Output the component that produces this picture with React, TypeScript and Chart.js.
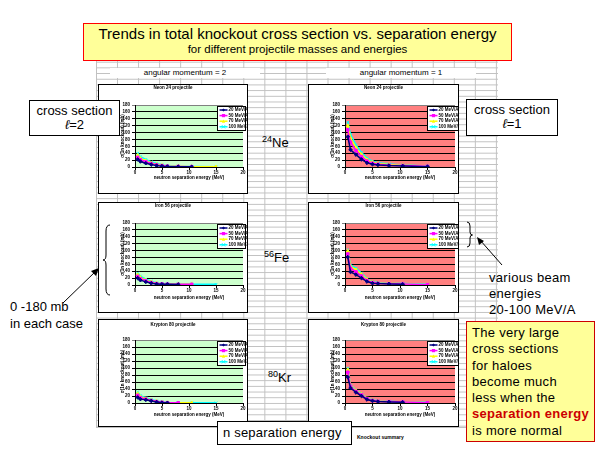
import React, { useEffect, useRef } from "react";
import { Chart, registerables } from "chart.js";

Chart.register(...registerables);

// ---------- data ----------
const SEP_ENERGY = [0.5, 1, 2, 3, 4, 5, 6, 8, 10.5, 15]; // MeV
const BEAM_ENERGIES = ["20 MeV/A", "50 MeV/A", "70 MeV/A", "100 MeV/A"];
const X_TICKS = [0, 5, 10, 15, 20];
const Y_TICKS = [0, 20, 40, 60, 80, 100, 120, 140, 160, 180];
const CHART_TITLES = ["Neon 24 projectile", "Iron 56 projectile", "Krypton 80 projectile"];
const X_TITLE = "neutron separation energy (MeV)";
const Y_TITLE = "σ(1n knockout) (mb)";

const NE24_L2 = [
  [22, 16, 11, 7, 4, 2.5, 1.5, 1, 0.5, null],
  [28, 21, 15, 10, 6, 4, 2.5, 1.5, 1, null],
  [34, 25, 18, 12, 8, 5, 3, 2, 1, 0.5],
  [40, 30, 22, 15, 10, 6, 4, 2.5, 1.5, 0.5],
];
const NE24_L1 = [
  [88, 50, 36, 22, 12, 8, 6, 4, 3, 1],
  [108, 72, 48, 30, 17, 11, 8, 5, 4, 2],
  [120, 84, 56, 36, 21, 14, 10, 7, 5, 2],
  [130, 95, 64, 42, 26, 17, 12, 9, 6, 3],
];
const FE56_L2 = [
  [20, 14, 9, 5, 3, 2, 2, 1.5, null, null],
  [25, 18, 12, 7, 4, 3, 2.5, 2, 2, null],
  [30, 22, 14, 9, 5, 3.5, 3, 2.5, 2, null],
  [35, 26, 17, 11, 6, 4, 3.5, 3, 2.5, 2],
];
const FE56_L1 = [
  [81, 38, 30, 20, 10, 5, 4, 3, 2, null],
  [90, 48, 38, 26, 13, 7, 5, 4, 3, 1],
  [98, 54, 44, 31, 16, 8, 6, 5, 3, 1],
  [102, 58, 49, 35, 18, 9, 7, 5, 4, 2],
];
const KR80_L2 = [
  [16, 11, 9, 6, 3, 1, 0.5, null, null, null],
  [22, 15, 11, 7, 4, 2, 1, 0.5, null, null],
  [27, 18, 13, 8, 5, 2, 1, 0.5, 0.5, null],
  [32, 21, 15, 10, 6, 3, 1.5, 1, 0.5, 0.5],
];
const KR80_L1 = [
  [74, 43, 30, 20, 10, 6, 4, 3, 2, null],
  [88, 47, 33, 23, 12, 7, 5, 4, 3, 1],
  [95, 49, 35, 25, 13, 8, 6, 4, 3, 1],
  [100, 51, 37, 26, 14, 9, 6, 5, 3, 2],
];

// ---------- styles ----------
const SERIES_COLORS = ["#000080", "#FF00FF", "#FFFF00", "#00FFFF"];
const SERIES_MARKERS = ["rectRot", "rect", "triangle", "crossRot"];
const FONT = "Arial, 'Liberation Sans', sans-serif";
const TINY = 4.5;

type Spec = {
  box: { x: number; y: number; w: number; h: number };
  plot: { l: number; t: number; r: number; b: number };
  titleY: number;
  xTitleY: number;
  title: string;
  bg: string;
  series: (number | null)[][];
  legend: { w: number; h: number; top: number; inset: number };
};

const ROWS = [
  { y: 84, h: 110, t: 105, b: 167, titleY: 88, xTitleY: 178 },
  { y: 202, h: 111, t: 223, b: 285, titleY: 206, xTitleY: 298 },
  { y: 319, h: 108, t: 340, b: 403, titleY: 325, xTitleY: 415 },
];
const COLS = [
  { x: 98, w: 150, l: 135, r: 243, bg: "#CCFFCC", legend: { w: 28, h: 24, top: 1, inset: 26 } },
  { x: 308, w: 151, l: 345, r: 455, bg: "#FF8080", legend: { w: 34, h: 24, top: 1, inset: 28 } },
];
const SERIES_GRID = [
  [NE24_L2, NE24_L1],
  [FE56_L2, FE56_L1],
  [KR80_L2, KR80_L1],
];

const SPECS: Spec[] = [];
ROWS.forEach((row, ri) => {
  COLS.forEach((col, ci) => {
    SPECS.push({
      box: { x: col.x, y: row.y, w: col.w, h: row.h },
      plot: { l: col.l, t: row.t, r: col.r, b: row.b },
      titleY: row.titleY,
      xTitleY: row.xTitleY,
      title: CHART_TITLES[ri],
      bg: col.bg,
      series: SERIES_GRID[ri][ci],
      legend: col.legend,
    });
  });
});

function drawMarker(ctx: CanvasRenderingContext2D, style: string, x: number, y: number, r: number, color: string) {
  ctx.save();
  ctx.fillStyle = color;
  ctx.strokeStyle = color;
  ctx.lineWidth = 1;
  ctx.beginPath();
  if (style === "rectRot") {
    ctx.moveTo(x, y - r); ctx.lineTo(x + r, y); ctx.lineTo(x, y + r); ctx.lineTo(x - r, y); ctx.closePath(); ctx.fill();
  } else if (style === "rect") {
    ctx.fillRect(x - r, y - r, 2 * r, 2 * r);
  } else if (style === "triangle") {
    ctx.moveTo(x, y - r); ctx.lineTo(x + r, y + r); ctx.lineTo(x - r, y + r); ctx.closePath(); ctx.fill();
  } else {
    ctx.moveTo(x - r, y - r); ctx.lineTo(x + r, y + r); ctx.moveTo(x + r, y - r); ctx.lineTo(x - r, y + r); ctx.stroke();
  }
  ctx.restore();
}

function SmallChart({ spec }: { spec: Spec }) {
  const ref = useRef<HTMLCanvasElement>(null);
  const cw = spec.box.w - 2;
  const ch = spec.box.h - 2;
  useEffect(() => {
    if (!ref.current) return;
    const cl = spec.box.x + 1;
    const ct = spec.box.y + 1;
    const yW = 15;
    const lh = TINY * 1.2;
    const xH = spec.xTitleY - spec.plot.b + lh / 2;
    const padding = {
      left: spec.plot.l - cl - yW,
      top: spec.plot.t - ct,
      right: cl + cw - spec.plot.r,
      bottom: ct + ch - spec.plot.b - xH,
    };
    const tickFont = { family: FONT, size: TINY, weight: "bold" as const };

    const decor = {
      id: "decor",
      beforeDraw(chart: any) {
        const { ctx, chartArea } = chart;
        ctx.save();
        ctx.fillStyle = spec.bg;
        ctx.fillRect(chartArea.left, chartArea.top, chartArea.right - chartArea.left, chartArea.bottom - chartArea.top);
        ctx.restore();
      },
      afterDraw(chart: any) {
        const { ctx, chartArea } = chart;
        ctx.save();
        // chart title
        ctx.font = `bold ${TINY}px ${FONT}`;
        ctx.fillStyle = "#000";
        ctx.textAlign = "center";
        ctx.textBaseline = "middle";
        ctx.fillText(spec.title, cw / 2, spec.titleY - ct);
        // legend
        const L = spec.legend;
        const lx = Math.round(chartArea.right - L.inset) + 0.5;
        const ly = Math.round(chartArea.top + L.top) + 0.5;
        ctx.fillStyle = "#fff";
        ctx.fillRect(lx, ly, L.w, L.h);
        ctx.strokeStyle = "#000";
        ctx.lineWidth = 1;
        ctx.strokeRect(lx, ly, L.w, L.h);
        chart.data.datasets.forEach((ds: any, i: number) => {
          const cy = ly + 3.5 + i * 5.6;
          ctx.strokeStyle = SERIES_COLORS[i];
          ctx.lineWidth = 1.5;
          ctx.beginPath();
          ctx.moveTo(lx + 2, cy);
          ctx.lineTo(lx + 10, cy);
          ctx.stroke();
          drawMarker(ctx, SERIES_MARKERS[i], lx + 6, cy, 1.6, SERIES_COLORS[i]);
          ctx.fillStyle = "#000";
          ctx.textAlign = "left";
          ctx.font = `bold ${TINY}px ${FONT}`;
          ctx.fillText(ds.label, lx + 11, cy);
        });
        ctx.restore();
      },
    };

    const chart = new Chart(ref.current, {
      type: "line",
      data: {
        datasets: spec.series.map((vals, i) => ({
          label: BEAM_ENERGIES[i],
          data: SEP_ENERGY.map((x, k) => ({ x, y: vals[k] })).filter((p) => p.y !== null) as any,
          borderColor: SERIES_COLORS[i],
          backgroundColor: SERIES_COLORS[i],
          borderWidth: 1.5,
          pointStyle: SERIES_MARKERS[i] as any,
          pointRadius: 1.8,
          pointBorderWidth: 1,
          pointBackgroundColor: SERIES_COLORS[i],
          pointBorderColor: SERIES_COLORS[i],
          tension: 0,
          fill: false,
        })),
      },
      options: {
        responsive: false,
        maintainAspectRatio: false,
        devicePixelRatio: 1,
        animation: false,
        layout: { padding, autoPadding: false } as any,
        plugins: { legend: { display: false }, title: { display: false }, tooltip: { enabled: false } },
        scales: {
          x: {
            type: "linear",
            min: X_TICKS[0],
            max: X_TICKS[X_TICKS.length - 1],
            afterBuildTicks: (s: any) => { s.ticks = X_TICKS.map((v) => ({ value: v })); },
            ticks: { font: tickFont, color: "#000", padding: 0, maxRotation: 0, autoSkip: false },
            grid: { drawOnChartArea: false, drawTicks: true, tickLength: 3, color: "#000", lineWidth: 1 },
            border: { color: "#000", width: 1 },
            title: { display: true, text: X_TITLE, font: tickFont, color: "#000", padding: 0 },
            afterFit: (s: any) => { s.height = xH; s.paddingLeft = 0; s.paddingRight = 0; },
          },
          y: {
            type: "linear",
            min: Y_TICKS[0],
            max: Y_TICKS[Y_TICKS.length - 1],
            afterBuildTicks: (s: any) => { s.ticks = Y_TICKS.map((v) => ({ value: v })); },
            ticks: { font: tickFont, color: "#000", padding: 2, autoSkip: false },
            grid: {
              drawOnChartArea: true,
              drawTicks: true,
              tickLength: 3,
              lineWidth: 1,
              color: (c: any) => (c.tick && c.tick.value === Y_TICKS[Y_TICKS.length - 1] ? "#808080" : "#000"),
            },
            border: { color: "#000", width: 1 },
            title: { display: true, text: Y_TITLE, font: tickFont, color: "#000", padding: 0 },
            afterFit: (s: any) => { s.width = yW; s.paddingTop = 0; s.paddingBottom = 0; },
          },
        },
      },
      plugins: [decor],
    });
    return () => chart.destroy();
  }, [spec]);

  return (
    <div
      style={{
        position: "absolute",
        left: spec.box.x,
        top: spec.box.y,
        width: spec.box.w,
        height: spec.box.h,
        border: "1px solid #000",
        boxSizing: "border-box",
        background: "#fff",
        overflow: "hidden",
      }}
    >
      <canvas ref={ref} width={cw} height={ch} style={{ display: "block", width: cw, height: ch }} />
    </div>
  );
}

const abs = (l: number, t: number, extra: React.CSSProperties = {}): React.CSSProperties => ({
  position: "absolute",
  left: l,
  top: t,
  ...extra,
});

export default function App() {
  const boxStyle: React.CSSProperties = {
    border: "1px solid #000",
    background: "#fff",
    boxSizing: "border-box",
    textAlign: "center",
    fontSize: 13,
    lineHeight: "14px",
  };
  return (
    <div
      style={{
        position: "fixed",
        left: 0,
        top: 0,
        width: 600,
        height: 450,
        background: "#fff",
        overflow: "hidden",
        fontFamily: FONT,
        color: "#000",
      }}
    >
      {/* spreadsheet grid */}
      <div
        style={abs(96, 56, {
          width: 402,
          height: 371,
          backgroundImage:
            "linear-gradient(to right, #c0c0c0 1px, transparent 1px), linear-gradient(to bottom, #c0c0c0 1px, transparent 1px)",
          backgroundSize: "21.05px 5.7px",
          borderBottom: "1px solid #c0c0c0",
        })}
      />
      {/* column headers */}
      <div style={abs(110, 68, { width: 150, textAlign: "center", fontSize: 8, lineHeight: "10px", background: "#fff" })}>
        angular momentum = 2
      </div>
      <div style={abs(326, 68, { width: 150, textAlign: "center", fontSize: 8, lineHeight: "10px", background: "#fff" })}>
        angular momentum = 1
      </div>

      {SPECS.map((s, i) => (
        <SmallChart key={i} spec={s} />
      ))}

      {/* nucleus labels */}
      <div style={abs(262, 131, { fontSize: 13, lineHeight: "16px", whiteSpace: "nowrap" })}>
        <span style={{ fontSize: 9, verticalAlign: "5px" }}>24</span>Ne
      </div>
      <div style={abs(264, 246, { fontSize: 13, lineHeight: "16px", whiteSpace: "nowrap" })}>
        <span style={{ fontSize: 9, verticalAlign: "5px" }}>56</span>Fe
      </div>
      <div style={abs(268, 366, { fontSize: 13, lineHeight: "16px", whiteSpace: "nowrap" })}>
        <span style={{ fontSize: 9, verticalAlign: "5px" }}>80</span>Kr
      </div>

      {/* title box */}
      <div
        style={abs(83, 23, {
          width: 429,
          height: 38,
          background: "#FFFF99",
          border: "1px solid #FF0000",
          boxSizing: "border-box",
          textAlign: "center",
        })}
      >
        <div style={{ fontSize: 15, lineHeight: "17px", marginTop: 1 }}>
          Trends in total knockout cross section vs. separation energy
        </div>
        <div style={{ fontSize: 11.5, lineHeight: "14px" }}>for different projectile masses and energies</div>
      </div>

      {/* cross section boxes */}
      <div style={abs(29, 100, { ...boxStyle, width: 91, height: 36, paddingTop: 3 })}>
        cross section
        <br />
        <i>ℓ</i>=2
      </div>
      <div style={abs(466, 99, { ...boxStyle, width: 92, height: 37, paddingTop: 3 })}>
        cross section
        <br />
        <i>ℓ</i>=1
      </div>

      {/* left annotation */}
      <div style={abs(10, 298, { fontSize: 13, lineHeight: "17px", whiteSpace: "nowrap" })}>
        0 -180 mb
        <br />
        in each case
      </div>

      {/* right annotation */}
      <div style={abs(489, 270, { fontSize: 13, lineHeight: "16px", whiteSpace: "nowrap", letterSpacing: 0.3 })}>
        various beam
        <br />
        energies
        <br />
        20-100 MeV/A
      </div>

      {/* yellow note */}
      <div
        style={abs(466, 321, {
          width: 129,
          height: 121,
          background: "#FFFF99",
          border: "1px solid #CC0000",
          boxSizing: "border-box",
          fontSize: 13,
          lineHeight: "16.3px",
          paddingLeft: 5,
          paddingTop: 3,
          letterSpacing: 0.3,
          whiteSpace: "nowrap",
        })}
      >
        The very large
        <br />
        cross sections
        <br />
        for haloes
        <br />
        become much
        <br />
        less when the
        <br />
        <b style={{ color: "#CC0000" }}>separation energy</b>
        <br />
        is more normal
      </div>

      {/* bottom label */}
      <div
        style={abs(217, 421, {
          width: 135,
          height: 24,
          border: "1px solid #000",
          background: "#fff",
          boxSizing: "border-box",
          fontSize: 13,
          lineHeight: "22px",
          paddingLeft: 5,
          whiteSpace: "nowrap",
          letterSpacing: 0.2,
        })}
      >
        n separation energy
      </div>
      <div style={abs(357, 434, { fontSize: 5, fontWeight: "bold", whiteSpace: "nowrap" })}>Knockout summary</div>

      {/* braces and arrows */}
      <svg width={600} height={450} style={{ position: "absolute", left: 0, top: 0, pointerEvents: "none" }}>
        <path
          d="M110,225 Q106,225 106,231 L106,255 Q106,260 103,260 Q106,260 106,265 L106,289 Q106,295 110,295"
          fill="none"
          stroke="#000"
          strokeWidth={1}
        />
        <path
          d="M467,222 Q470,222 470,226 L470,232 Q470,235 472.5,235 Q470,235 470,238 L470,243 Q470,247 467,247"
          fill="none"
          stroke="#000"
          strokeWidth={1}
        />
        <line x1={63} y1={303} x2={96} y2={271} stroke="#000" strokeWidth={1} />
        <polygon points="99,268 91,271 96,276" fill="#000" />
        <line x1={502} y1={265} x2={480} y2={240} stroke="#000" strokeWidth={1} />
        <polygon points="477,237 479,245 484,241" fill="#000" />
      </svg>
    </div>
  );
}
